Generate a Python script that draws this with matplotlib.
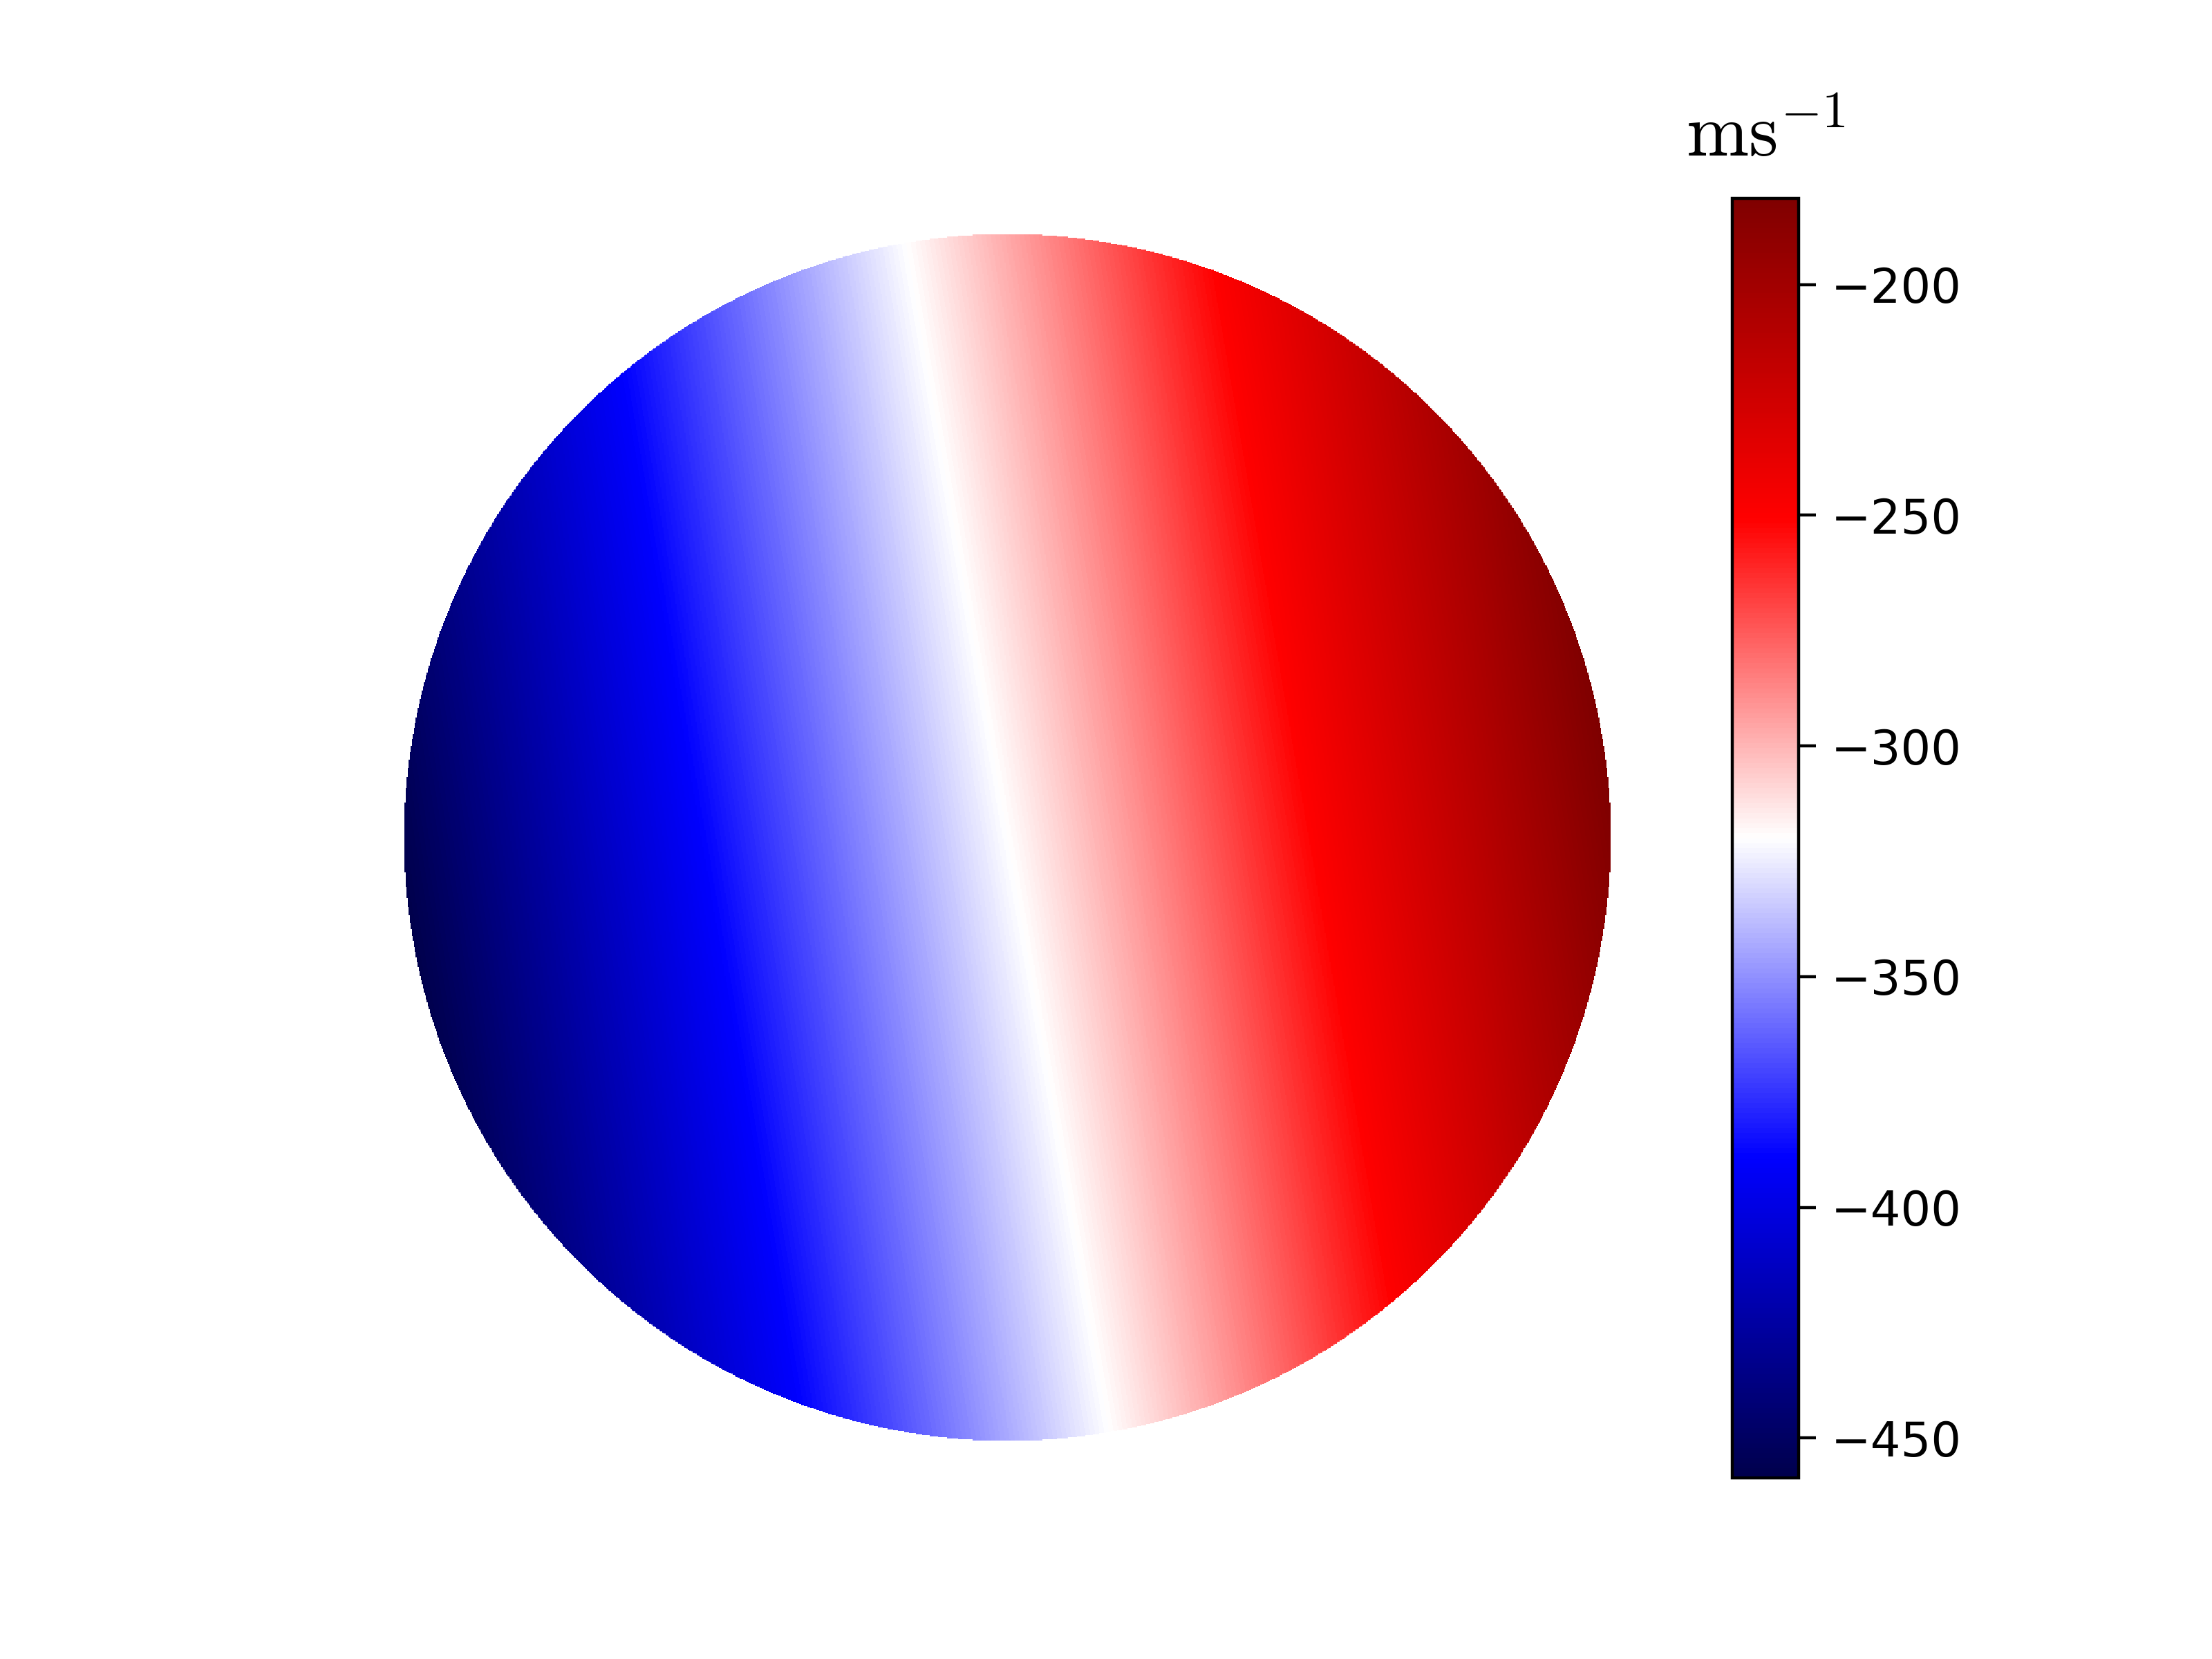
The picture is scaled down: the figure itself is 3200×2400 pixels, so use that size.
import numpy as np
import matplotlib
matplotlib.use("Agg")
import matplotlib.pyplot as plt

plt.rcParams['mathtext.fontset'] = 'cm'

# Campo de velocidad del disco (rotacion inclinada)
v_centro = -320.0      # velocidad en el centro del disco [m/s]
v_amp = 138.7          # amplitud en el borde [m/s]
inclinacion = 9.7      # angulo del gradiente [grados]
cb_ticks = [-200, -250, -300, -350, -400, -450]

n = 1200
x = np.linspace(-1, 1, n)
X, Y = np.meshgrid(x, x)
th = np.deg2rad(inclinacion)
vel = v_centro + v_amp*(X*np.cos(th) + Y*np.sin(th))
vel = np.ma.masked_where(X**2 + Y**2 > 1, vel)

fig = plt.figure(figsize=(8, 6), dpi=400)
ax = fig.add_axes([0.1667, 0.11, 0.5775, 0.77])
im = ax.imshow(vel, cmap='seismic', origin='lower', extent=[-1, 1, -1, 1],
               interpolation='nearest')
ax.set_xlim(-1.058, 1.058)
ax.set_ylim(-1.058, 1.058)
ax.axis('off')

cax = fig.add_axes([0.7831, 0.109, 0.03, 0.7715])
cb = fig.colorbar(im, cax=cax)
cb.set_ticks(cb_ticks)
cax.tick_params(labelsize=12.4, length=4.5, pad=4)
cax.set_title(r'$\mathrm{ms}^{-1}$', fontsize=19.5, pad=11)

fig.savefig('out.png', dpi=400)
